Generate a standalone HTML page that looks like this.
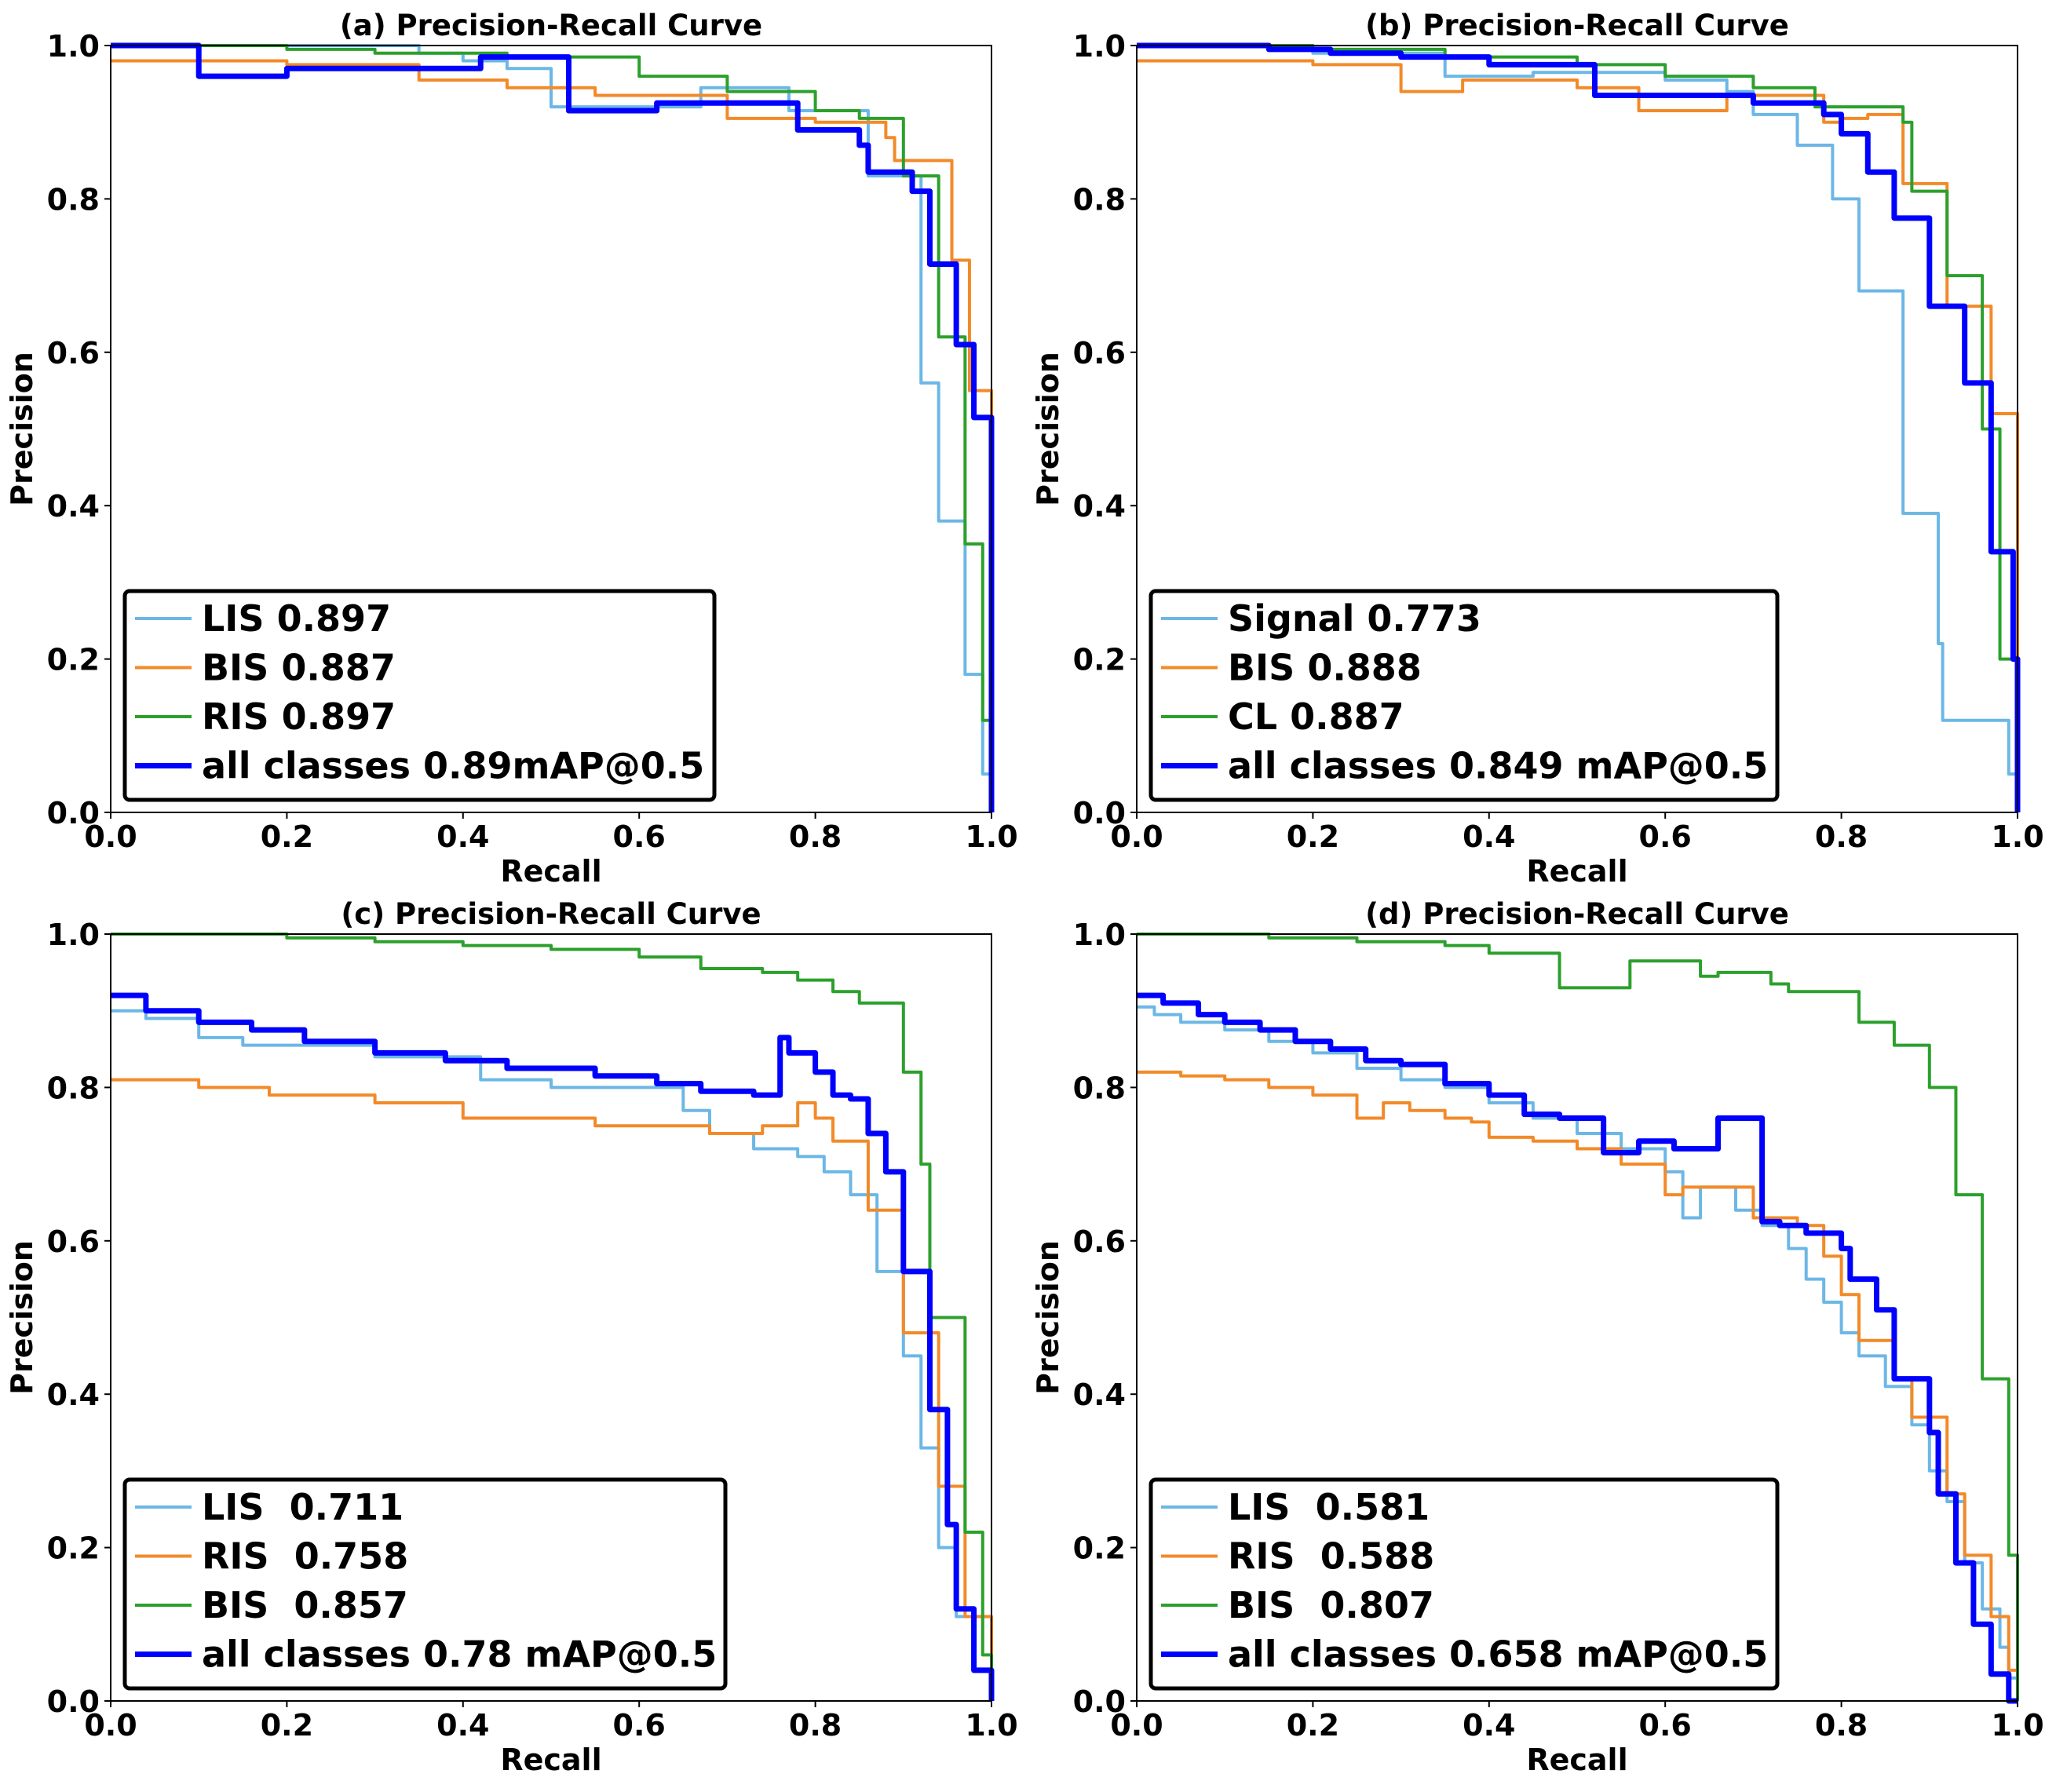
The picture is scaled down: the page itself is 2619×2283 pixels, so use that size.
<!DOCTYPE html>
<html><head><meta charset="utf-8"><style>
html,body{margin:0;padding:0;background:#fff;}
svg{display:block;font-family:"DejaVu Sans","Liberation Sans",sans-serif;font-weight:bold;}
</style></head><body>
<svg id="fig" width="2619" height="2283" viewBox="0 0 2619 2283" xmlns="http://www.w3.org/2000/svg"></svg>
<script>
const aLIS_R=[0.35,0.4,0.45,0.5,0.67,0.77,0.86,0.92,0.94,0.97,0.99,1.0];
const aLIS_P=[1.0,0.99,0.98,0.97,0.92,0.945,0.915,0.83,0.56,0.38,0.18,0.05];
const aBIS_R=[0.2,0.35,0.45,0.55,0.7,0.8,0.88,0.89,0.955,0.975,1.0];
const aBIS_P=[0.98,0.975,0.955,0.945,0.935,0.905,0.9,0.88,0.85,0.72,0.55];
const aRIS_R=[0.2,0.3,0.45,0.6,0.7,0.8,0.85,0.9,0.94,0.97,0.99,1.0];
const aRIS_P=[1.0,0.995,0.99,0.985,0.96,0.94,0.915,0.905,0.83,0.62,0.35,0.12];
const aALL_R=[0.1,0.2,0.42,0.52,0.62,0.78,0.85,0.86,0.91,0.93,0.96,0.98,1.0];
const aALL_P=[1.0,0.96,0.97,0.985,0.915,0.925,0.89,0.87,0.835,0.81,0.715,0.61,0.515];

const bSIG_R=[0.2,0.35,0.45,0.6,0.67,0.7,0.75,0.79,0.82,0.87,0.91,0.915,0.99,1.0];
const bSIG_P=[1.0,0.99,0.96,0.965,0.955,0.94,0.91,0.87,0.8,0.68,0.39,0.22,0.12,0.05];
const bBIS_R=[0.2,0.3,0.37,0.5,0.57,0.67,0.78,0.8,0.83,0.87,0.92,0.97,1.0];
const bBIS_P=[0.98,0.975,0.94,0.955,0.945,0.915,0.935,0.9,0.905,0.91,0.82,0.66,0.52];
const bCL_R=[0.2,0.35,0.5,0.6,0.7,0.77,0.87,0.88,0.92,0.96,0.98,1.0];
const bCL_P=[1.0,0.995,0.985,0.975,0.96,0.945,0.92,0.9,0.81,0.7,0.5,0.2];
const bALL_R=[0.15,0.22,0.3,0.4,0.52,0.6,0.7,0.78,0.8,0.83,0.86,0.9,0.94,0.97,0.995,1.0];
const bALL_P=[1.0,0.995,0.99,0.985,0.975,0.935,0.935,0.925,0.91,0.885,0.835,0.775,0.66,0.56,0.34,0.2];

const cLIS_R=[0.04,0.1,0.15,0.3,0.42,0.5,0.65,0.68,0.73,0.78,0.81,0.84,0.87,0.9,0.92,0.94,0.96,0.98,1.0];
const cLIS_P=[0.9,0.89,0.865,0.855,0.84,0.81,0.8,0.77,0.74,0.72,0.71,0.69,0.66,0.56,0.45,0.33,0.2,0.11,0.04];
const cRIS_R=[0.1,0.18,0.3,0.4,0.55,0.68,0.74,0.78,0.8,0.82,0.86,0.9,0.94,0.97,1.0];
const cRIS_P=[0.81,0.8,0.79,0.78,0.76,0.75,0.74,0.75,0.78,0.76,0.73,0.64,0.48,0.28,0.11];
const cBIS_R=[0.2,0.3,0.4,0.5,0.6,0.67,0.74,0.78,0.82,0.85,0.9,0.92,0.93,0.97,0.99,1.0];
const cBIS_P=[1.0,0.995,0.99,0.985,0.98,0.97,0.955,0.95,0.94,0.925,0.91,0.82,0.7,0.5,0.22,0.06];
const cALL_R=[0.04,0.1,0.16,0.22,0.3,0.38,0.45,0.55,0.62,0.67,0.73,0.76,0.77,0.8,0.82,0.84,0.86,0.88,0.9,0.93,0.95,0.96,0.98,1.0];
const cALL_P=[0.92,0.9,0.885,0.875,0.86,0.845,0.835,0.825,0.815,0.805,0.795,0.79,0.865,0.845,0.82,0.79,0.785,0.74,0.69,0.56,0.38,0.23,0.12,0.04];

const dLIS_R=[0.02,0.05,0.1,0.15,0.2,0.25,0.3,0.35,0.4,0.45,0.5,0.55,0.6,0.62,0.64,0.68,0.71,0.74,0.76,0.78,0.8,0.82,0.85,0.88,0.9,0.92,0.94,0.96,0.98,0.99,1.0];
const dLIS_P=[0.905,0.895,0.885,0.875,0.86,0.845,0.825,0.81,0.8,0.78,0.76,0.74,0.72,0.69,0.63,0.67,0.64,0.62,0.59,0.55,0.52,0.48,0.45,0.41,0.36,0.3,0.26,0.18,0.12,0.07,0.03];
const dRIS_R=[0.05,0.1,0.15,0.2,0.25,0.28,0.31,0.35,0.38,0.4,0.45,0.5,0.55,0.6,0.62,0.7,0.75,0.78,0.8,0.82,0.86,0.88,0.92,0.94,0.97,0.99,1.0];
const dRIS_P=[0.82,0.815,0.81,0.8,0.79,0.76,0.78,0.77,0.76,0.755,0.735,0.73,0.72,0.7,0.66,0.67,0.63,0.62,0.58,0.53,0.47,0.42,0.37,0.27,0.19,0.11,0.04];
const dBIS_R=[0.15,0.25,0.35,0.4,0.48,0.56,0.64,0.66,0.72,0.74,0.82,0.86,0.9,0.93,0.96,0.99,1.0];
const dBIS_P=[1.0,0.995,0.99,0.985,0.975,0.93,0.965,0.945,0.95,0.935,0.925,0.885,0.855,0.8,0.66,0.42,0.19];
const dALL_R=[0.03,0.07,0.1,0.14,0.18,0.22,0.26,0.3,0.35,0.4,0.44,0.48,0.53,0.57,0.61,0.66,0.71,0.73,0.76,0.8,0.81,0.84,0.86,0.9,0.91,0.93,0.95,0.97,0.99,1.0];
const dALL_P=[0.92,0.91,0.895,0.885,0.875,0.86,0.85,0.835,0.83,0.805,0.79,0.765,0.76,0.715,0.73,0.72,0.76,0.625,0.62,0.61,0.59,0.55,0.51,0.42,0.35,0.27,0.18,0.1,0.035,0.0];

const tickVals=[0.0,0.2,0.4,0.6,0.8,1.0];
const tickLabels=["0.0","0.2","0.4","0.6","0.8","1.0"];

const panels=[
 {id:'a',x0:141,y0:58,title:'(a) Precision-Recall Curve',legW:751,
  series:[['LIS 0.897',aLIS_R,aLIS_P,'#6cb7e6',4],['BIS 0.887',aBIS_R,aBIS_P,'#f28a29',4],['RIS 0.897',aRIS_R,aRIS_P,'#2ca02c',4],['all classes 0.89mAP@0.5',aALL_R,aALL_P,'#0000ff',7]]},
 {id:'b',x0:1448,y0:58,title:'(b) Precision-Recall Curve',legW:798,
  series:[['Signal 0.773',bSIG_R,bSIG_P,'#6cb7e6',4],['BIS 0.888',bBIS_R,bBIS_P,'#f28a29',4],['CL 0.887',bCL_R,bCL_P,'#2ca02c',4],['all classes 0.849 mAP@0.5',bALL_R,bALL_P,'#0000ff',7]]},
 {id:'c',x0:141,y0:1190,title:'(c) Precision-Recall Curve',legW:765,
  series:[['LIS  0.711',cLIS_R,cLIS_P,'#6cb7e6',4],['RIS  0.758',cRIS_R,cRIS_P,'#f28a29',4],['BIS  0.857',cBIS_R,cBIS_P,'#2ca02c',4],['all classes 0.78 mAP@0.5',cALL_R,cALL_P,'#0000ff',7]]},
 {id:'d',x0:1448,y0:1190,title:'(d) Precision-Recall Curve',legW:798,
  series:[['LIS  0.581',dLIS_R,dLIS_P,'#6cb7e6',4],['RIS  0.588',dRIS_R,dRIS_P,'#f28a29',4],['BIS  0.807',dBIS_R,dBIS_P,'#2ca02c',4],['all classes 0.658 mAP@0.5',dALL_R,dALL_P,'#0000ff',7]]}
];
const W=1122,H=977;
const NS='http://www.w3.org/2000/svg';
const svg=document.getElementById('fig');
function mk(t,a,parent){const e=document.createElementNS(NS,t);for(const k in a)e.setAttribute(k,a[k]);(parent||svg).appendChild(e);return e;}

panels.forEach(p=>{
  const g=mk('g',{});
  
  
  const sx=v=>p.x0+v*W, sy=v=>p.y0+H-v*H;
  p.series.forEach((s,si)=>{
    const R=s[1],P=s[2];
    let d='M'+sx(0)+','+sy(P[0]);
    for(let i=0;i<R.length;i++){
      d+=' L'+sx(R[i])+','+sy(P[i]);
      const nxt=i+1<R.length?P[i+1]:0;
      d+=' L'+sx(R[i])+','+sy(nxt);
    }
    const path=mk('path',{d:d,fill:'none',stroke:s[3],'stroke-width':s[4],'stroke-linejoin':'round'},g);
    
    
  });
  const fr=mk('rect',{x:p.x0,y:p.y0,width:W,height:H,fill:'none',stroke:'#000','stroke-width':2},g);
  
  
  tickVals.forEach((v,i)=>{
    mk('line',{x1:sx(v),x2:sx(v),y1:p.y0+H,y2:p.y0+H+8,stroke:'#000','stroke-width':2},g);
    mk('line',{x1:p.x0-8,x2:p.x0,y1:sy(v),y2:sy(v),stroke:'#000','stroke-width':2},g);
    const tx=mk('text',{x:sx(v),y:p.y0+H+44,'text-anchor':'middle','font-size':38},g);
    tx.textContent=tickLabels[i];
    
    
    const ty=mk('text',{x:p.x0-14,y:sy(v)+14,'text-anchor':'end','font-size':38},g);
    ty.textContent=tickLabels[i];
    
    
  });
  const t=mk('text',{x:p.x0+W/2,y:p.y0-13,'text-anchor':'middle','font-size':37},g);
  t.textContent=p.title;
  
  
  const xl=mk('text',{x:p.x0+W/2,y:p.y0+H+88,'text-anchor':'middle','font-size':38},g);
  xl.textContent='Recall';
  
  
  const yl=mk('text',{x:0,y:0,'text-anchor':'middle','font-size':38,transform:'translate('+(p.x0-100)+','+(p.y0+H/2)+') rotate(-90)'},g);
  yl.textContent='Precision';
  
  
  const lx=p.x0+18, ly=p.y0+695;
  const lg=mk('g',{},g);
  
  
  mk('rect',{x:lx,y:ly,width:p.legW,height:266,rx:6,fill:'#fff',stroke:'#000','stroke-width':5},lg);
  p.series.forEach((s,i)=>{
    const yy=ly+35+i*62.5;
    const ln=mk('line',{x1:lx+13,x2:lx+85,y1:yy,y2:yy,stroke:s[3],'stroke-width':s[4]},lg);
    
    
    const tx=mk('text',{x:lx+98,y:yy+16,'font-size':46},lg);
    tx.setAttribute('style','white-space:pre');
    tx.textContent=s[0];
    
    
  });
});
</script>
</body></html>
